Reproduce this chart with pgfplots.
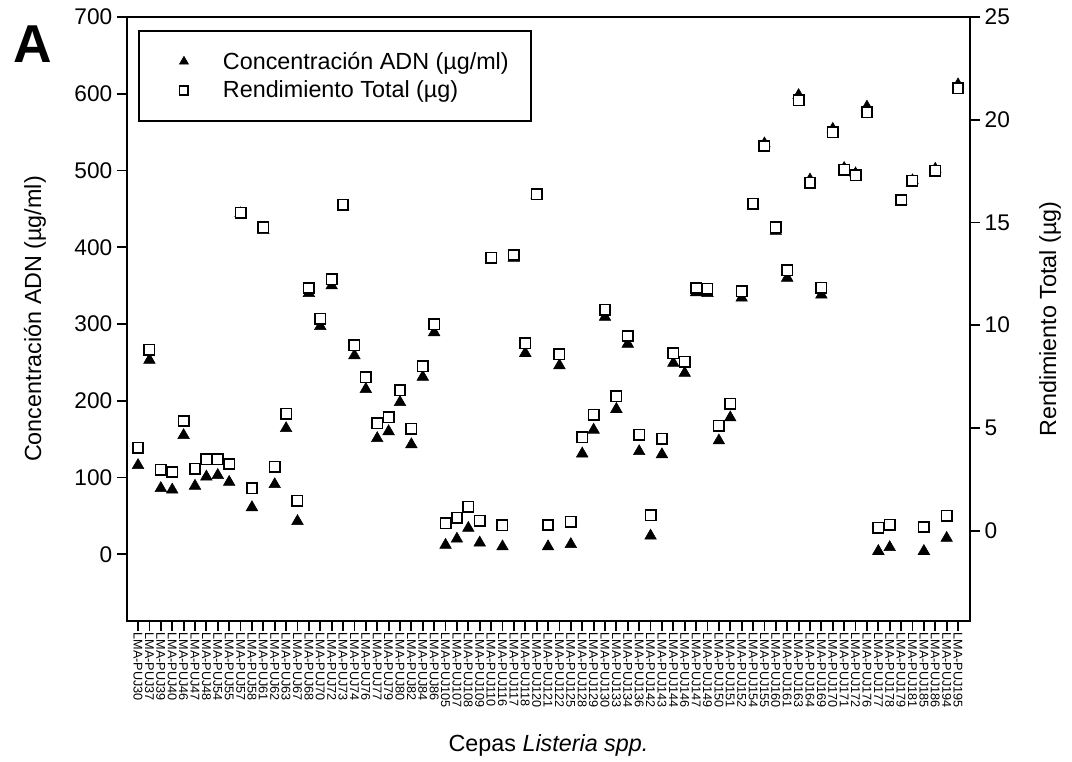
\documentclass[border=0pt]{standalone}
\usepackage{fontspec}
\setmainfont{Liberation Sans}
\usepackage{pgfplots}
\pgfplotsset{compat=1.18}
\usepackage{pgfplotstable}

\pgfplotstableread{
i conc yield
0 116 4.04
1 253 8.81
2 86 2.97
3 84 2.85
4 155 5.34
5 89 3.02
6 101 3.47
7 103 3.47
8 94 3.24
9 444 15.48
10 61 2.05
11 422 14.77
12 91 3.11
13 164 5.69
14 43 1.46
15 340 11.81
16 297 10.32
17 350 12.24
18 453 15.87
19 259 9.02
20 215 7.47
21 151 5.23
22 160 5.52
23 198 6.83
24 143 4.96
25 231 7.99
26 289 10.05
27 12 0.36
28 20 0.62
29 34 1.16
30 15 0.48
31 385 13.29
32 10 0.25
33 386 13.42
34 262 9.11
35 468 16.37
36 10 0.27
37 246 8.58
38 13 0.43
39 131 4.54
40 162 5.64
41 309 10.75
42 189 6.53
43 274 9.47
44 134 4.66
45 24 0.75
46 130 4.48
47 249 8.63
48 236 8.22
49 341 11.81
50 340 11.78
51 148 5.11
52 178 6.17
53 334 11.64
54 455 15.91
55 535 18.72
56 421 14.77
57 360 12.68
58 598 20.94
59 488 16.94
60 338 11.82
61 554 19.38
62 503 17.56
63 496 17.30
64 583 20.37
65 4 0.14
66 9 0.28
67 460 16.09
68 487 17.03
69 4 0.18
70 502 17.51
71 21 0.73
72 612 21.53
}\datatable

\pgfplotsset{
  common/.style={
    scale only axis, width=632.25pt, height=453pt,
    xmin=-0.97, xmax=73.05,
    tick align=outside,
    major tick length=7.5pt,
    axis line style={line width=1.5pt},
    every tick/.style={line width=1.4pt, black},
    /pgf/number format/assume math mode=true,
    yticklabel style={font=\fontsize{17}{20}\selectfont},
  }
}

\begin{document}
\begin{tikzpicture}
\begin{axis}[common,
  ymin=-87, ymax=700,
  ytick={0,100,...,700},
  xtick={0,...,72},
  xticklabels={LMA-PUJ30,LMA-PUJ37,LMA-PUJ39,LMA-PUJ40,LMA-PUJ46,LMA-PUJ47,LMA-PUJ48,LMA-PUJ54,LMA-PUJ55,LMA-PUJ57,LMA-PUJ58,LMA-PUJ61,LMA-PUJ62,LMA-PUJ63,LMA-PUJ67,LMA-PUJ68,LMA-PUJ70,LMA-PUJ72,LMA-PUJ73,LMA-PUJ74,LMA-PUJ76,LMA-PUJ77,LMA-PUJ79,LMA-PUJ80,LMA-PUJ82,LMA-PUJ84,LMA-PUJ86,LMA-PUJ105,LMA-PUJ107,LMA-PUJ108,LMA-PUJ109,LMA-PUJ110,LMA-PUJ116,LMA-PUJ117,LMA-PUJ118,LMA-PUJ120,LMA-PUJ121,LMA-PUJ122,LMA-PUJ125,LMA-PUJ128,LMA-PUJ129,LMA-PUJ130,LMA-PUJ133,LMA-PUJ134,LMA-PUJ136,LMA-PUJ142,LMA-PUJ143,LMA-PUJ144,LMA-PUJ146,LMA-PUJ147,LMA-PUJ149,LMA-PUJ150,LMA-PUJ151,LMA-PUJ152,LMA-PUJ154,LMA-PUJ155,LMA-PUJ160,LMA-PUJ161,LMA-PUJ163,LMA-PUJ164,LMA-PUJ169,LMA-PUJ170,LMA-PUJ171,LMA-PUJ172,LMA-PUJ176,LMA-PUJ177,LMA-PUJ178,LMA-PUJ179,LMA-PUJ181,LMA-PUJ185,LMA-PUJ186,LMA-PUJ194,LMA-PUJ195},
  xticklabel style={rotate=-90, anchor=west, font=\fontsize{9.5}{10}\selectfont, inner sep=1pt},
  xtick pos=lower, ytick pos=left,
  every axis y label/.style={at={(axis description cs:0,0.5)}, xshift=-69pt, rotate=90, anchor=center},
  every axis x label/.style={at={(axis description cs:0.5,0)}, yshift=-93pt, anchor=center},
  label style={font=\fontsize{17.5}{20}\selectfont},
  ylabel={Concentración ADN (µg/ml)},
  xlabel={Cepas \textit{Listeria spp.}},
]
\addplot[only marks, mark=triangle*, mark size=5pt, black] table[x=i, y=conc] {\datatable};
\end{axis}
\begin{axis}[common,
  ymin=-4.4, ymax=25,
  ytick={0,5,...,25},
  axis x line=none, axis y line*=right,
  every axis y label/.style={at={(axis description cs:1,0.5)}, xshift=60pt, rotate=90, anchor=center},
  label style={font=\fontsize{17.5}{20}\selectfont},
  ylabel={Rendimiento Total (µg)},
  legend style={at={(0.013,0.9785)}, anchor=north west, draw=black, line width=1.5pt,
    inner xsep=0pt, inner ysep=12pt, font=\fontsize{17.5}{20}\selectfont,
    nodes={inner sep=0pt, minimum height=21.75pt}},
  legend cell align=left,
  legend image code/.code={\path[draw=none, fill=none] (0pt,-5pt) rectangle (63pt,5pt); \draw[#1] plot coordinates {(33.75pt,0pt)};},
]
\addlegendimage{only marks, mark=triangle*, mark size=3.9pt, black, line width=0.4pt}
\addlegendentry{\makebox[231pt][l]{Concentración ADN (µg/ml)}}
\addlegendimage{only marks, mark=square*, mark size=3.2pt, mark options={fill=white, draw=black, line width=1.2pt}}
\addlegendentry{\makebox[231pt][l]{Rendimiento Total (µg)}}
\addplot[forget plot, only marks, mark=square*, mark size=3.9pt, mark options={fill=white, draw=black, line width=1.2pt}] table[x=i, y=yield] {\datatable};
\end{axis}
\node[font=\bfseries\fontsize{40}{42}\selectfont] at ([shift={(-70.5pt,-20.25pt)}]current axis.north west) {A};
\pgfresetboundingbox
\path ([shift={(-95.25pt,-105pt)}]current axis.south west) rectangle ([shift={(76.5pt,12.75pt)}]current axis.north east);
\end{tikzpicture}
\end{document}
